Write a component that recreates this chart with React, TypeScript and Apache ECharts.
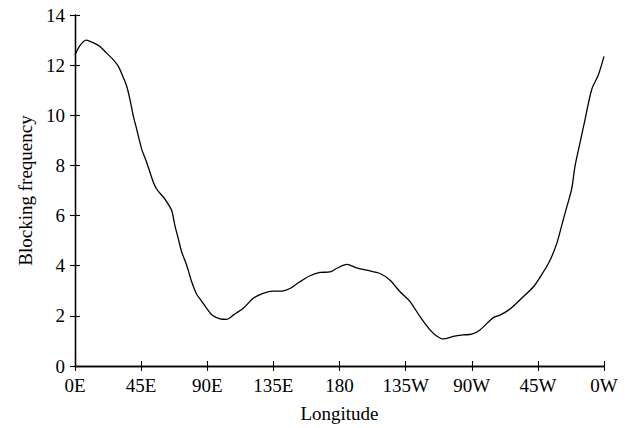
import React, { useEffect, useRef } from "react";
import * as echarts from "echarts";

const longitude = [
  0, 3, 7.5, 11, 14, 17, 21.5, 26, 29.5, 33, 35.2, 37.4, 39.7, 42, 45.4, 48.8, 53.3, 56, 60, 63,
  65.8, 68, 70.3, 72.6, 76, 79.4, 82.8, 86, 89.6, 94, 98.7, 103.2, 107.7, 114.5, 121.3, 128, 135,
  140.7, 146.3, 153, 160, 166.7, 173.5, 178, 185, 191.7, 198.5, 207.6, 214.4, 221.2, 228, 234.8,
  241.6, 246.1, 250.6, 257.4, 264.2, 270, 275.6, 284.7, 289.2, 296, 305, 312, 318.7, 323.3, 327.8,
  331.2, 334.6, 338, 340.3, 343.7, 347.1, 351.6, 356.2, 360,
];
const frequency = [
  12.4, 12.75, 13.0, 12.93, 12.85, 12.74, 12.48, 12.22, 11.95, 11.49, 11.16, 10.63, 9.97, 9.44, 8.65,
  8.12, 7.33, 7.02, 6.75, 6.5, 6.2, 5.6, 5.08, 4.55, 4.02, 3.36, 2.86, 2.6, 2.3, 2.0, 1.88, 1.86, 2.03,
  2.3, 2.7, 2.9, 2.99, 2.99, 3.09, 3.36, 3.6, 3.73, 3.75, 3.89, 4.05, 3.91, 3.82, 3.69, 3.42, 2.96,
  2.57, 1.97, 1.44, 1.2, 1.08, 1.18, 1.24, 1.27, 1.44, 1.93, 2.03, 2.27, 2.76, 3.16, 3.75, 4.22, 4.88,
  5.6, 6.33, 7.06, 7.98, 8.91, 9.83, 11.02, 11.62, 12.35,
];
const xTickValues = [0, 45, 90, 135, 180, 225, 270, 315, 360];
const xTickLabels = ["0E", "45E", "90E", "135E", "180", "135W", "90W", "45W", "0W"];

const FONT = "Liberation Serif";

export default function App() {
  const ref = useRef<HTMLDivElement>(null);
  useEffect(() => {
    if (!ref.current) return;
    const chart = echarts.init(ref.current, null, { renderer: "svg" });
    const data = longitude.map((x, i) => [x, frequency[i]]);
    const axisLine = { show: true, lineStyle: { color: "#000", width: 1.3 } };
    const axisTick = { show: true, inside: true, length: 5, lineStyle: { color: "#000", width: 1.1 } };
    chart.setOption({
      animation: false,
      backgroundColor: "#fff",
      grid: { left: 75, right: 26, top: 15, bottom: 60, containLabel: false },
      xAxis: [
        {
          type: "value",
          min: 0,
          max: 360,
          interval: 45,
          position: "bottom",
          name: "Longitude",
          nameLocation: "middle",
          nameGap: 38,
          nameTextStyle: { fontFamily: FONT, fontSize: 19, color: "#000" },
          axisLine,
          axisTick,
          splitLine: { show: false },
          axisLabel: {
            margin: 10,
            fontFamily: FONT,
            fontSize: 19,
            color: "#000",
            formatter: (v: number) => {
              const i = xTickValues.indexOf(v);
              return i >= 0 ? xTickLabels[i] : "";
            },
          },
        },
        {
          type: "value",
          min: 0,
          max: 360,
          interval: 45,
          position: "top",
          axisLine,
          axisTick,
          splitLine: { show: false },
          axisLabel: { show: false },
        },
      ],
      yAxis: [
        {
          type: "value",
          min: 0,
          max: 14,
          interval: 2,
          position: "left",
          name: "Blocking frequency",
          nameLocation: "middle",
          nameGap: 39,
          nameTextStyle: { fontFamily: FONT, fontSize: 19, color: "#000" },
          axisLine,
          axisTick,
          splitLine: { show: false },
          axisLabel: { margin: 10, fontFamily: FONT, fontSize: 19, color: "#000" },
        },
        {
          type: "value",
          min: 0,
          max: 14,
          interval: 2,
          position: "right",
          axisLine,
          axisTick,
          splitLine: { show: false },
          axisLabel: { show: false },
        },
      ],
      series: [
        {
          type: "line",
          xAxisIndex: 0,
          yAxisIndex: 0,
          data,
          showSymbol: false,
          smooth: 0.3,
          lineStyle: { color: "#000", width: 1.3 },
        },
      ],
    });
    return () => chart.dispose();
  }, []);
  return <div ref={ref} style={{ width: 630, height: 428, position: "absolute", left: 0, top: 0 }} />;
}
